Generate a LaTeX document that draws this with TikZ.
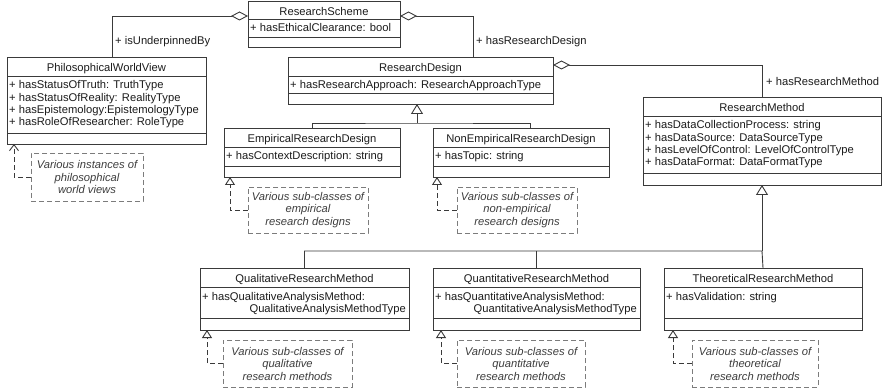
\documentclass[tikz,border=0pt]{standalone}
\usepackage{fontspec}
\setmainfont{Liberation Sans}
\usetikzlibrary{arrows.meta,calc}
\definecolor{ln}{HTML}{3A3A3A}
\definecolor{txt}{HTML}{1C1C1C}
\definecolor{notec}{HTML}{7C7C7C}
\tikzset{
  clsbox/.style={draw=ln, line width=0.9pt, inner sep=0pt, outer sep=0pt, fill=white},
  sepline/.style={draw=ln, line width=0.9pt},
  ttl/.style={anchor=base, inner sep=0pt, text=txt, font=\fontsize{11.2}{12}\selectfont},
  attr/.style={anchor=base west, inner sep=0pt, text=txt, font=\fontsize{11.2}{12}\selectfont},
  attrr/.style={anchor=base east, inner sep=0pt, text=txt, font=\fontsize{11.2}{12}\selectfont},
  lbl/.style={anchor=base west, inner sep=0pt, text=txt, font=\fontsize{11.2}{12}\selectfont},
  conn/.style={draw=ln, line width=0.9pt},
  agg/.style={conn, {Diamond[open,length=17pt,width=9pt]}-},
  gen/.style={conn, -{Triangle[open,length=10pt,width=12pt]}},
  notebox/.style={draw=notec, dashed, dash pattern=on 5pt off 3pt, line width=0.9pt, inner sep=0pt,
    align=center, text=txt!85, font=\itshape\fontsize{11.2}{12.5}\selectfont},
  real/.style={conn, dash pattern=on 5pt off 3pt, -{Triangle[open,length=8pt,width=10pt]}},
  realv/.style={conn, dash pattern=on 5pt off 3pt, -{Straight Barb[length=6pt,width=9pt]}}
}
\newcommand{\umlclass}[8]{%
  \node[clsbox, anchor=north west, minimum width={(#4-#2)*1pt}, minimum height={(#5-#3)*1pt}] (#1) at (#2,#3) {};
  \draw[sepline] (#2,#6) -- (#4,#6);
  \draw[sepline] (#2,#7) -- (#4,#7);
  \node[ttl] (#1-title) at ({(#2+#4)/2},{#3+14.5}) {#8};
}
\begin{document}
\begin{tikzpicture}[x=1pt,y=-1pt]
\path[fill=white, use as bounding box] (0,0) rectangle (883,390);

% classes
\umlclass{RS}{248}{1}{400}{47}{19}{37}{ResearchScheme}
\node[attr] (RS-a1) at (250,32) {+ hasEthicalClearance: bool};

\umlclass{PWV}{7}{57}{206}{144}{76}{133}{PhilosophicalWorldView}
\node[attr] (PWV-a1) at (9,89) {+ hasStatusOfTruth: TruthType};
\node[attr] (PWV-a2) at (9,101.2) {+ hasStatusOfReality: RealityType};
\node[attr] (PWV-a3) at (9,113.4) {+ hasEpistemology:EpistemologyType};
\node[attr] (PWV-a4) at (9,125.6) {+ hasRoleOfResearcher: RoleType};

\umlclass{RD}{288}{57}{553}{104}{76}{93}{ResearchDesign}
\node[attr] (RD-a1) at (290,89) {+ hasResearchApproach: ResearchApproachType};

\umlclass{ERD}{224}{128}{400}{177}{147}{166}{EmpiricalResearchDesign}
\node[attr] (ERD-a1) at (226,160) {+ hasContextDescription: string};

\umlclass{NERD}{433}{128}{609}{177}{147}{166}{NonEmpiricalResearchDesign}
\node[attr] (NERD-a1) at (435,160) {+ hasTopic: string};

\umlclass{RM}{643}{97}{881}{185}{116}{173}{ResearchMethod}
\node[attr] (RM-a1) at (645,129) {+ hasDataCollectionProcess: string};
\node[attr] (RM-a2) at (645,141.2) {+ hasDataSource: DataSourceType};
\node[attr] (RM-a3) at (645,153.4) {+ hasLevelOfControl: LevelOfControlType};
\node[attr] (RM-a4) at (645,165.6) {+ hasDataFormat: DataFormatType};

\umlclass{QLRM}{200}{268}{409}{330}{287}{318}{QualitativeResearchMethod}
\node[attr] (QLRM-a1) at (202,300) {+ hasQualitativeAnalysisMethod:};
\node[attrr] (QLRM-a2) at (406,312) {QualitativeAnalysisMethodType};

\umlclass{QNRM}{433}{268}{640}{330}{287}{318}{QuantitativeResearchMethod}
\node[attr] (QNRM-a1) at (435,300) {+ hasQuantitativeAnalysisMethod:};
\node[attrr] (QNRM-a2) at (637,312) {QuantitativeAnalysisMethodType};

\umlclass{TRM}{664}{268}{862}{330}{287}{318}{TheoreticalResearchMethod}
\node[attr] (TRM-a1) at (666,300) {+ hasValidation: string};

% notes
\node[notebox, minimum width=112pt, minimum height=48pt] (nPWV) at (87,177) {Various instances of\\philosophical\\world views};
\node[notebox, minimum width=120pt, minimum height=46pt] (nERD) at (308,210) {Various sub-classes of\\empirical\\research designs};
\node[notebox, minimum width=120pt, minimum height=46pt] (nNERD) at (517,210) {Various sub-classes of\\non-empirical\\research designs};
\node[notebox, minimum width=129pt, minimum height=47pt] (nQLRM) at (287.5,363.5) {Various sub-classes of\\qualitative\\research methods};
\node[notebox, minimum width=128pt, minimum height=47pt] (nQNRM) at (521,363.5) {Various sub-classes of\\quantitative\\research methods};
\node[notebox, minimum width=126pt, minimum height=47pt] (nTRM) at (755,363.5) {Various sub-classes of\\theoretical\\research methods};

% aggregations
\draw[agg] ([yshift=-15pt]RS.north west) -| ([xshift=105pt]PWV.north west);
\node[lbl] (l1) at (115,45) {+ isUnderpinnedBy};
\draw[agg] ([yshift=-15pt]RS.north east) -| ([xshift=185pt]RD.north west);
\node[lbl] (l2) at (476,45) {+ hasResearchDesign};
\draw[agg] ([yshift=-8pt]RD.north east) -| (RM.north);
\node[lbl] (l3) at (766,85.5) {+ hasResearchMethod};

% generalization of ResearchDesign
\coordinate (j1) at (417,123);
\draw[gen] (j1) -- (j1 |- RD.south);
\draw[conn] (ERD.north) |- (j1) -| ([xshift=97pt]NERD.north west);

% generalization of ResearchMethod
\coordinate (j2) at (762,251);
\draw[gen] (j2) -- (RM.south);
\draw[conn] (QLRM.north) |- (j2) -- (TRM.north);
\draw[conn] (QNRM.north) -- (QNRM.north |- j2);

% note connectors
\draw[realv] (nPWV.west) -| ([xshift=7pt]PWV.south west);
\draw[real] (nERD.west) -| ([xshift=6pt]ERD.south west);
\draw[real] (nNERD.west) -| ([xshift=4pt]NERD.south west);
\draw[real] (nQLRM.west) -| ([xshift=7pt]QLRM.south west);
\draw[real] (nQNRM.west) -| ([xshift=8pt]QNRM.south west);
\draw[real] (nTRM.west) -| ([xshift=9pt]TRM.south west);
\end{tikzpicture}
\end{document}
